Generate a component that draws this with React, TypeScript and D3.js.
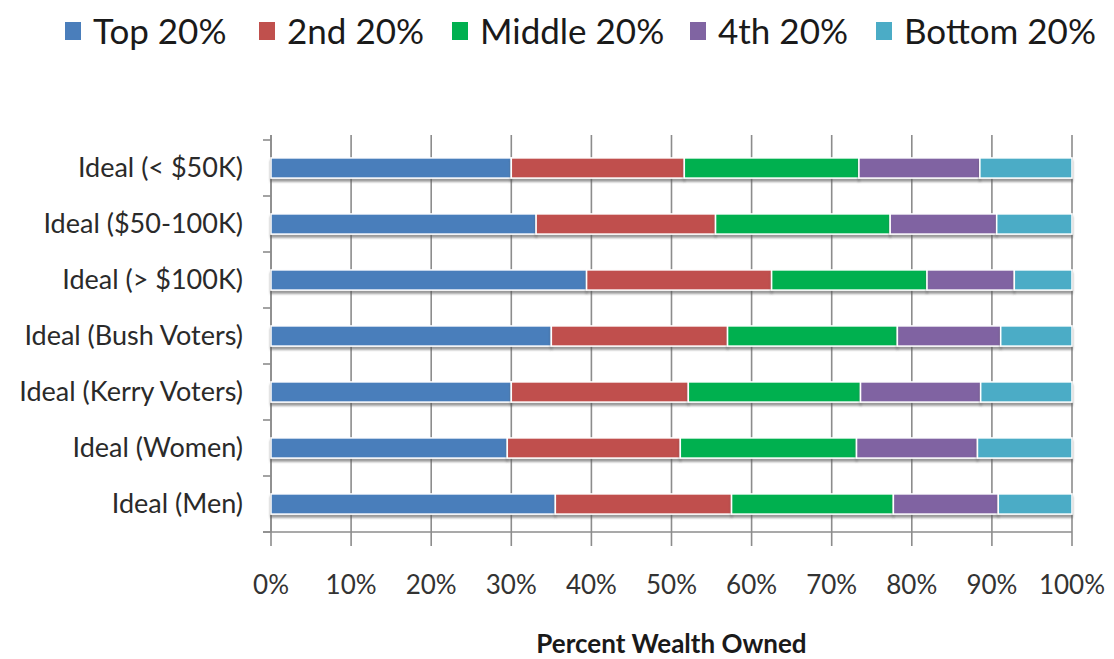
import React from 'react';
import * as d3 from 'd3';

const categories = [
  'Ideal (< $50K)',
  'Ideal ($50-100K)',
  'Ideal (> $100K)',
  'Ideal (Bush Voters)',
  'Ideal (Kerry Voters)',
  'Ideal (Women)',
  'Ideal (Men)',
];

const seriesNames = ['Top 20%', '2nd 20%', 'Middle 20%', '4th 20%', 'Bottom 20%'];
const seriesColors = ['#4a7ebb', '#c0504d', '#00b050', '#8064a2', '#4bacc6'];

// one row per category, one value per quintile (percent)
const top20 = [30.0, 33.1, 39.4, 35.0, 30.0, 29.5, 35.5];
const second20 = [21.6, 22.4, 23.1, 22.0, 22.1, 21.6, 22.0];
const middle20 = [21.8, 21.8, 19.4, 21.2, 21.5, 22.0, 20.2];
const fourth20 = [15.1, 13.3, 10.9, 12.9, 15.0, 15.1, 13.1];
const bottom20 = [11.5, 9.4, 7.2, 8.9, 11.4, 11.8, 9.2];

const xTicks = [0, 10, 20, 30, 40, 50, 60, 70, 80, 90, 100];

const W = 1114;
const H = 659;
const margin = { left: 271, right: 42, top: 140, bottom: 127 };

export default function App() {
  const series = [top20, second20, middle20, fourth20, bottom20];
  const rows = categories.map((c, i) => {
    const r: any = { cat: c };
    seriesNames.forEach((s, k) => (r[s] = series[k][i]));
    return r;
  });
  const stacked = d3.stack<any>().keys(seriesNames)(rows);

  const x = d3.scaleLinear().domain([0, 100]).range([margin.left, W - margin.right]);
  const y = d3
    .scaleBand<string>()
    .domain(categories)
    .range([margin.top, H - margin.bottom])
    .paddingInner(0.64)
    .paddingOuter(0.32);

  const plotTop = margin.top - 5;
  const plotBottom = H - margin.bottom;

  // legend layout
  const legendX = [65, 259, 452, 690, 876];

  return (
    <svg
      width={W}
      height={H}
      style={{ position: 'absolute', left: 0, top: 0, background: '#fff' }}
      fontFamily="Lato, 'Open Sans', sans-serif"
    >
      <defs>
        <filter id="shadow" x="-5%" y="-50%" width="110%" height="200%">
          <feDropShadow dx="0" dy="3" stdDeviation="1.3" floodColor="#555" floodOpacity="0.6" />
        </filter>
      </defs>

      {/* legend */}
      <g>
        {seriesNames.map((s, i) => (
          <g key={s} transform={`translate(${legendX[i]},0)`}>
            <rect x={0} y={22} width={16} height={18} fill={seriesColors[i]} />
            <text x={28} y={44} fontSize={35} fill="#1a1a1a">
              {s}
            </text>
          </g>
        ))}
      </g>

      {/* vertical gridlines */}
      <g stroke="#8c8c8c" strokeWidth={1.6}>
        {xTicks.map((t) => (
          <line key={t} x1={x(t)} x2={x(t)} y1={plotTop} y2={plotBottom + 14} />
        ))}
      </g>

      {/* left axis with category ticks */}
      <g stroke="#8c8c8c" strokeWidth={1.6}>
        <line x1={x(0)} x2={x(0)} y1={plotTop} y2={plotBottom} />
        {d3.range(categories.length + 1).map((i) => {
          const yy = margin.top + (i * (plotBottom - margin.top)) / categories.length;
          return <line key={i} x1={x(0) - 8} x2={x(0)} y1={yy} y2={yy} />;
        })}
        <line x1={x(0) - 8} x2={x(100)} y1={plotBottom} y2={plotBottom} />
      </g>

      {/* bars */}
      {stacked.map((layer, k) => (
        <g key={layer.key} fill={seriesColors[k]} filter="url(#shadow)">
          {layer.map((d, i) => (
            <rect
              key={i}
              x={x(d[0])}
              y={y(categories[i])}
              width={x(d[1]) - x(d[0])}
              height={y.bandwidth()}
              stroke="#fff"
              strokeWidth={1.5}
            />
          ))}
        </g>
      ))}

      {/* category labels */}
      <g fontSize={27} fill="#2a2a2a" textAnchor="end">
        {categories.map((c) => (
          <text key={c} x={243} y={(y(c) as number) + y.bandwidth() / 2} dy="0.35em">
            {c}
          </text>
        ))}
      </g>

      {/* x tick labels */}
      <g fontSize={26} fill="#333" textAnchor="middle">
        {xTicks.map((t) => (
          <text key={t} x={x(t)} y={594}>
            {t}%
          </text>
        ))}
      </g>

      <text
        x={(x(0) + x(100)) / 2}
        y={653}
        fontSize={26}
        fontWeight="bold"
        fill="#1a1a1a"
        textAnchor="middle"
      >
        Percent Wealth Owned
      </text>
    </svg>
  );
}
